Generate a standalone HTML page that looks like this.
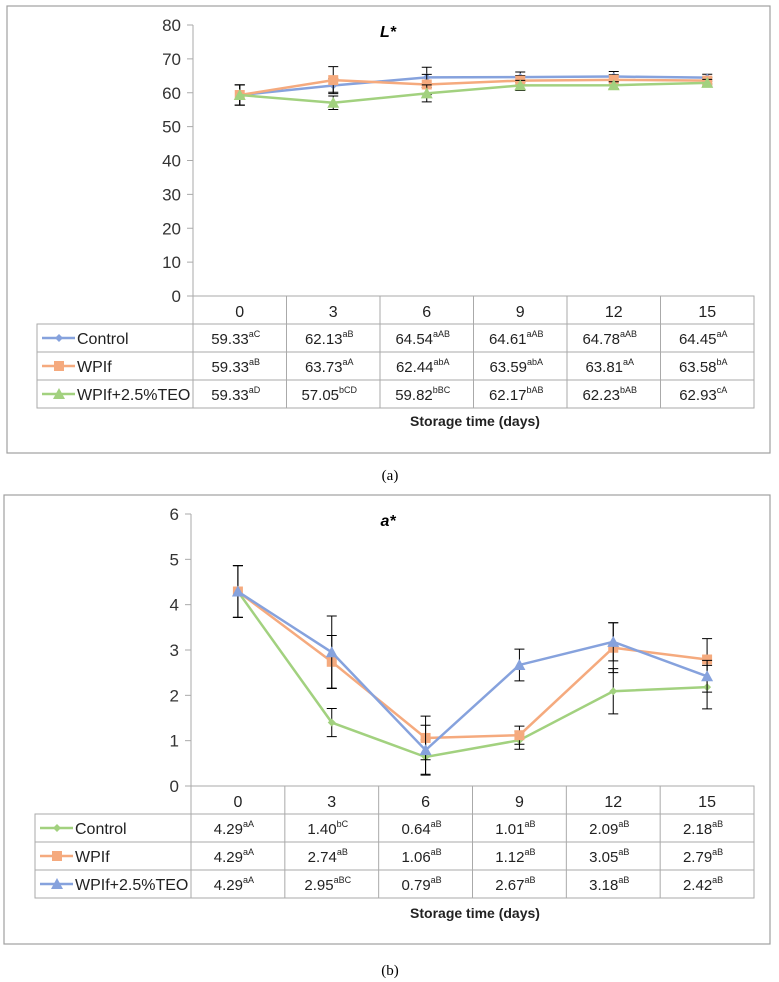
<!DOCTYPE html>
<html><head><meta charset="utf-8"><style>
body{margin:0;background:#fff;}
svg{display:block;font-family:"Liberation Sans",sans-serif;}
</style></head><body>
<svg id="s" width="779" height="982" viewBox="0 0 779 982"></svg>
<script>
const categories=[0,3,6,9,12,15];
const lCtrl=[59.33,62.13,64.54,64.61,64.78,64.45];
const lWpi=[59.33,63.73,62.44,63.59,63.81,63.58];
const lTeo=[59.33,57.05,59.82,62.17,62.23,62.93];
const lCtrlErr=[3,2,3,1.5,1.5,1];
const lWpiErr=[3,4,3,1.5,1.5,1];
const lTeoErr=[3,2,2.5,1.5,1,1];
const lCtrlSup=["aC","aB","aAB","aAB","aAB","aA"];
const lWpiSup=["aB","aA","abA","abA","aA","bA"];
const lTeoSup=["aD","bCD","bBC","bAB","bAB","cA"];
const lTicks=[0,10,20,30,40,50,60,70,80];
const aCtrl=[4.29,1.40,0.64,1.01,2.09,2.18];
const aWpi=[4.29,2.74,1.06,1.12,3.05,2.79];
const aTeo=[4.29,2.95,0.79,2.67,3.18,2.42];
const aCtrlErr=[0.57,0.31,0.38,0.2,0.5,0.48];
const aWpiErr=[0.57,0.58,0.48,0.2,0.55,0.46];
const aTeoErr=[0.57,0.8,0.55,0.35,0.42,0.35];
const aCtrlSup=["aA","bC","aB","aB","aB","aB"];
const aWpiSup=["aA","aB","aB","aB","aB","aB"];
const aTeoSup=["aA","aBC","aB","aB","aB","aB"];
const aTicks=[0,1,2,3,4,5,6];

const NS="http://www.w3.org/2000/svg";
const svg=document.getElementById('s');
function el(t,a,p){const e=document.createElementNS(NS,t);for(const k in a)e.setAttribute(k,a[k]);(p||svg).appendChild(e);return e;}
const BLUE="#86a2dd",ORANGE="#f5aa7e",GREEN="#a2d17f";

function panel(o){
  const g=el('g',{});
  
  
  const box=el('rect',{x:o.bx,y:o.by,width:770-o.bx,height:o.bb-o.by,fill:'none',stroke:'#a0a0a0','stroke-width':1.2},g);
  
  
  const x0=o.ax,x1=754,cw=(x1-x0)/6;
  const xs=i=>x0+cw*(i+0.5);
  const ys=v=>o.y0-(v-o.min)/(o.max-o.min)*(o.y0-o.yTop);
  const ax=el('line',{x1:x0,y1:o.yTop,x2:x0,y2:o.y0,stroke:'#aaa'},g);
  
  
  o.ticks.forEach(t=>{
    el('line',{x1:x0-6,y1:ys(t),x2:x0,y2:ys(t),stroke:'#aaa'},g);
    const tx=el('text',{x:x0-12,y:ys(t)+6,'text-anchor':'end','font-size':17,fill:'#333'},g);
    tx.textContent=t;
    
    
  });
  const ti=el('text',{x:o.tx,y:o.yTop+12,'text-anchor':'middle','font-size':16,'font-weight':'bold','font-style':'italic'},g);
  ti.textContent=o.title;
  
  
  o.series.forEach(s=>{
    const pts=s.v.map((v,i)=>xs(i)+','+ys(v)).join(' ');
    const pl=el('polyline',{points:pts,fill:'none',stroke:s.c,'stroke-width':2.5},g);
    
    
    s.v.forEach((v,i)=>{
      const x=xs(i),y=ys(v);
      const eb=el('path',{d:`M${x},${ys(v-s.e[i])}V${ys(v+s.e[i])}M${x-5},${ys(v-s.e[i])}h10M${x-5},${ys(v+s.e[i])}h10`,stroke:'#000','stroke-width':1,fill:'none'},g);
      
      
      let m;
      if(s.m==='sq')m=el('rect',{x:x-5,y:y-5,width:10,height:10,fill:s.c},g);
      else if(s.m==='tri')m=el('path',{d:`M${x},${y-6}L${x+6},${y+5}L${x-6},${y+5}Z`,fill:s.c},g);
      else m=el('path',{d:`M${x},${y-4}L${x+4},${y}L${x},${y+4}L${x-4},${y}Z`,fill:s.c},g);
      
      
    });
  });
  const ty=o.y0,rh=28,lx=o.lx;
  const tb=el('g',{},g);
  
  
  el('rect',{x:x0,y:ty,width:x1-x0,height:rh,fill:'none',stroke:'#aaa'},tb);
  el('rect',{x:lx,y:ty+rh,width:x1-lx,height:rh*3,fill:'none',stroke:'#aaa'},tb);
  for(let i=1;i<6;i++)el('line',{x1:x0+cw*i,y1:ty,x2:x0+cw*i,y2:ty+rh*4,stroke:'#aaa'},tb);
  el('line',{x1:x0,y1:ty+rh,x2:x0,y2:ty+rh*4,stroke:'#aaa'},tb);
  for(let r=2;r<4;r++)el('line',{x1:lx,y1:ty+rh*r,x2:x1,y2:ty+rh*r,stroke:'#aaa'},tb);
  categories.forEach((c,i)=>{
    const t=el('text',{x:xs(i),y:ty+21,'text-anchor':'middle','font-size':16,fill:'#222'},tb);
    t.textContent=c;
    
    
  });
  o.series.forEach((s,r)=>{
    const yy=ty+rh*(r+1);
    const lg=el('g',{},tb);
    
    
    el('line',{x1:lx+5,y1:yy+14,x2:lx+38,y2:yy+14,stroke:s.c,'stroke-width':2.5},lg);
    const mx=lx+22,my=yy+14;
    if(s.m==='sq')el('rect',{x:mx-5,y:my-5,width:10,height:10,fill:s.c},lg);
    else if(s.m==='tri')el('path',{d:`M${mx},${my-6}L${mx+6},${my+5}L${mx-6},${my+5}Z`,fill:s.c},lg);
    else el('path',{d:`M${mx},${my-4}L${mx+4},${my}L${mx},${my+4}L${mx-4},${my}Z`,fill:s.c},lg);
    const lt=el('text',{x:lx+40,y:yy+20,'font-size':16,fill:'#222'},lg);
    lt.textContent=s.label;
    s.v.forEach((v,i)=>{
      const t=el('text',{x:xs(i)-4,y:yy+20,'text-anchor':'middle','font-size':15,fill:'#222'},tb);
      t.textContent=v.toFixed(2);
      const sp=el('tspan',{'font-size':9,dy:-7},t);
      sp.textContent=s.sup[i];
      
      
    });
  });
  const xl=el('text',{x:475,y:o.xly,'text-anchor':'middle','font-size':14,'font-weight':'bold',fill:'#222'},g);
  xl.textContent='Storage time (days)';
  
  
  const cp=el('text',{x:390,y:o.cy,'text-anchor':'middle','font-size':15,'font-family':'Liberation Serif, serif'},g);
  cp.textContent=o.cap;
  
  
}

panel({name:'panel-a-lightness',bx:7,by:6,bb:453,ax:193,lx:37,y0:296,yTop:25,min:0,max:80,ticks:lTicks,title:'L*',tx:388,xly:426,cy:480,cap:'(a)',
 series:[{key:'control',label:'Control',v:lCtrl,e:lCtrlErr,sup:lCtrlSup,c:BLUE,m:'dia'},
         {key:'wpif',label:'WPIf',v:lWpi,e:lWpiErr,sup:lWpiSup,c:ORANGE,m:'sq'},
         {key:'wpif-teo',label:'WPIf+2.5%TEO',v:lTeo,e:lTeoErr,sup:lTeoSup,c:GREEN,m:'tri'}]});
panel({name:'panel-b-redness',bx:4,by:495,bb:944,ax:191,lx:35,y0:786,yTop:514,min:0,max:6,ticks:aTicks,title:'a*',tx:388,xly:918,cy:975,cap:'(b)',
 series:[{key:'control',label:'Control',v:aCtrl,e:aCtrlErr,sup:aCtrlSup,c:GREEN,m:'dia'},
         {key:'wpif',label:'WPIf',v:aWpi,e:aWpiErr,sup:aWpiSup,c:ORANGE,m:'sq'},
         {key:'wpif-teo',label:'WPIf+2.5%TEO',v:aTeo,e:aTeoErr,sup:aTeoSup,c:BLUE,m:'tri'}]});
</script>
</body></html>
